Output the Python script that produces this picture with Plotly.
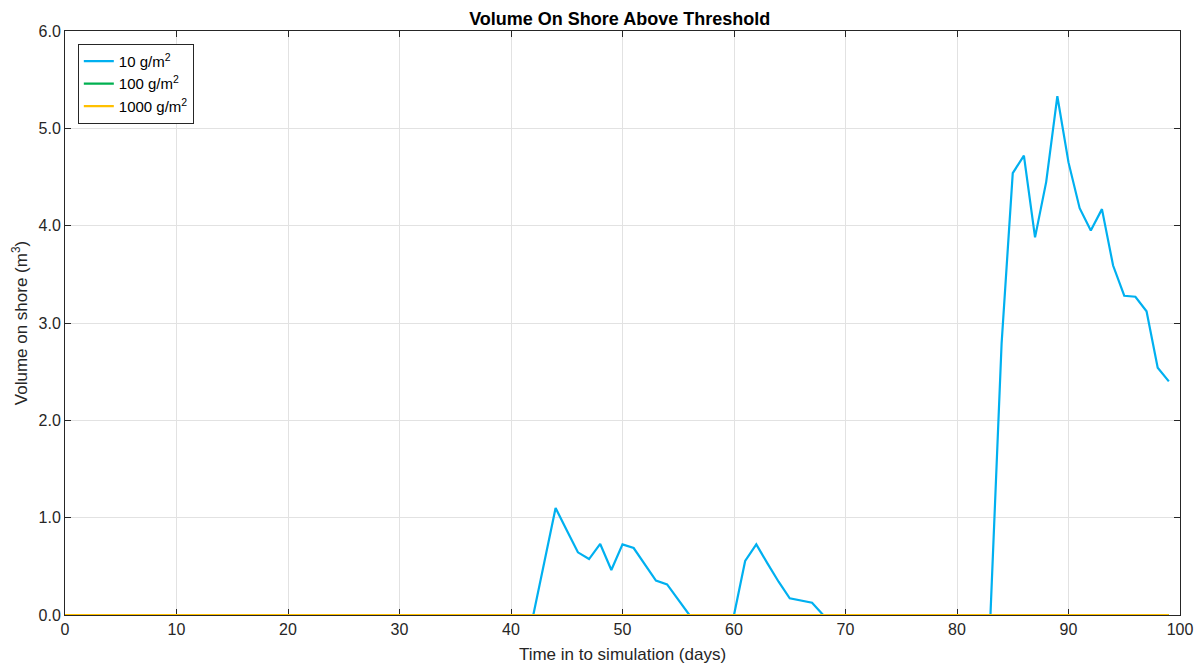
import plotly.graph_objects as go

# Simulation days and shoreline volume above each threshold
days = list(range(0, 100))

vol_10 = [0.0] * 42 + [
    0.0, 0.55, 1.10, 0.87, 0.644, 0.575, 0.73, 0.462, 0.726, 0.688,   # 42-51
    0.514, 0.353, 0.315, 0.155, 0.0, 0.0, 0.0, 0.0, 0.0, 0.555,      # 52-61
    0.726, 0.53, 0.342, 0.171, 0.147, 0.127, 0.0,                    # 62-68
] + [0.0] * 14 + [
    0.0, 2.79, 4.54, 4.72, 3.88, 4.45, 5.33, 4.65, 4.18, 3.95,       # 83-92
    4.17, 3.59, 3.28, 3.27, 3.12, 2.54, 2.40,                        # 93-99
]
vol_100 = [0.0] * 100
vol_1000 = [0.0] * 100

series_names = ["10 g/m<sup>2</sup>", "100 g/m<sup>2</sup>", "1000 g/m<sup>2</sup>"]
series_colors = ["#00B0F0", "#00B050", "#FFC000"]

x_ticks = [0, 10, 20, 30, 40, 50, 60, 70, 80, 90, 100]
y_ticks = [0.0, 1.0, 2.0, 3.0, 4.0, 5.0, 6.0]

FONT = "Liberation Sans, Arial, sans-serif"
AXIS_GREY = "#262626"

fig = go.Figure()
for name, color, vals in zip(series_names, series_colors, [vol_10, vol_100, vol_1000]):
    fig.add_trace(go.Scatter(
        x=days, y=vals, mode="lines", name=name,
        line=dict(color=color, width=2.2), cliponaxis=False,
    ))

axis_common = dict(
    showline=True, linecolor=AXIS_GREY, linewidth=1, mirror="ticks",
    ticks="inside", ticklen=6, tickcolor=AXIS_GREY, tickwidth=1,
    showgrid=True, gridcolor="#e2e2e2", gridwidth=1,
    zeroline=False, automargin=False, layer="below traces",
    tickfont=dict(family=FONT, size=16, color=AXIS_GREY),
)

fig.update_layout(
    width=1201, height=671,
    margin=dict(l=65, r=21, t=31, b=56),
    paper_bgcolor="white", plot_bgcolor="white",
    font=dict(family=FONT, color=AXIS_GREY),
    title=dict(
        text="<b>Volume On Shore Above Threshold</b>",
        x=0.516, xanchor="center", y=0.972, yanchor="middle",
        font=dict(family=FONT, size=18, color="black"),
    ),
    xaxis=dict(
        range=[0, 100], tickvals=x_ticks,
        title=dict(text="Time in to simulation (days)", standoff=10,
                   font=dict(family=FONT, size=17, color=AXIS_GREY)),
        **axis_common,
    ),
    yaxis=dict(
        range=[0, 6], tickvals=y_ticks, tickformat=".1f",
        title=dict(text="Volume on shore (m<sup>3</sup>)", standoff=6,
                   font=dict(family=FONT, size=17, color=AXIS_GREY)),
        **axis_common,
    ),
    legend=dict(
        x=0.0115, y=0.978, xanchor="left", yanchor="top",
        bgcolor="white", bordercolor=AXIS_GREY, borderwidth=1,
        font=dict(family=FONT, size=15, color="black"),
        tracegroupgap=0, itemwidth=30,
    ),
    showlegend=True,
)

fig.write_html("out.html")
